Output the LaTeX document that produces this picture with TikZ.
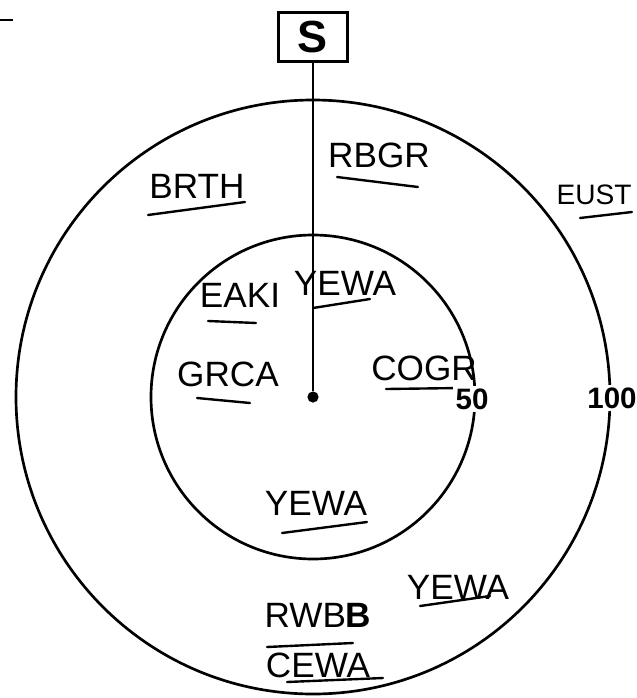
\documentclass[tikz,border=0pt]{standalone}
\usepackage{fontspec}
\setmainfont{Liberation Sans}
\usetikzlibrary{positioning}
\tikzset{
  ring/.style={line width=1.9pt},
  spp/.style={font=\fontsize{25}{28}\selectfont, inner sep=0pt},
  uline/.style={line width=1.7pt, line cap=round},
  dist/.style={fill=white, font=\fontsize{21}{24}\selectfont\bfseries, inner sep=1.5pt}
}

\begin{document}
\begin{tikzpicture}[x=0.025cm, y=-0.025cm]
\useasboundingbox (0,0) rectangle (637,698);

\draw[line width=1.2pt] (0,20) -- (13,20);

\draw[ring] (313,397) circle (297);
\draw[ring] (313,397) circle (162);

\node[draw, line width=1.6pt, minimum width=1.72cm, minimum height=1.22cm,
  font=\fontsize{32}{34}\selectfont\bfseries] (sbox) at (313,37) {S};
\node[circle, fill, inner sep=0pt, minimum size=0.28cm] (ctr) at (313,397) {};
\draw[line width=1.6pt] (sbox) -- (ctr);

\node[spp] (brth) at (197,186) {BRTH};
\node[spp] (rbgr) at (379,155) {RBGR};
\node[spp, font=\fontsize{20}{24}\selectfont] (eust) at (594,195) {EUST};
\node[spp] (eaki) at (240,295) {EAKI};
\node[spp] (yewaA) at (345,283) {YEWA};
\node[spp] (grca) at (228,374) {GRCA};
\node[spp] (cogr) at (424,368) {COGR};
\node[spp] (yewaB) at (316,503) {YEWA};
\node[spp] (yewaC) at (458,587) {YEWA};
\node[spp] (rwbb) at (318,615) {RWB\textbf{B}};
\node[spp] (cewa) at (318,665) {CEWA};

\draw[uline] (148,215) -- (245,202);
\draw[uline] (337,177) -- (418,187);
\draw[uline] (580,218) -- (632,212);
\draw[uline] (208,321) -- (256,323);
\draw[uline] (313,308) -- (370,299);
\draw[uline] (197,398) -- (250,403);
\draw[uline] (386,389) -- (460,388);
\draw[uline] (282,533) -- (367,522);
\draw[uline] (420,606) -- (490,596);
\draw[uline] (267,647) -- (353,643);
\draw[uline] (287,682) -- (383,678);

\node[dist] (r50) at (472,399) {50};
\node[dist] (r100) at (612,398) {100};
\end{tikzpicture}
\end{document}
